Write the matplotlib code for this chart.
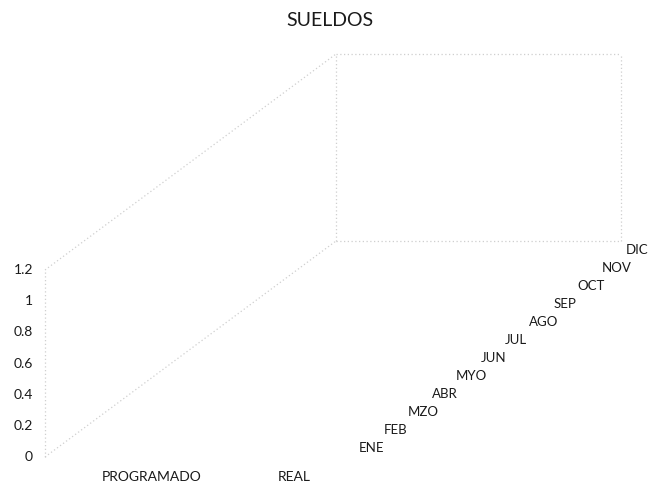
import numpy as np
import matplotlib
matplotlib.use("Agg")
from matplotlib import pyplot as plt
from matplotlib.patches import Polygon

plt.rcParams['font.family'] = ['Lato', 'DejaVu Sans']

# data
title = "SUELDOS"
series = ["PROGRAMADO", "REAL"]
months = ["ENE", "FEB", "MZO", "ABR", "MYO", "JUN",
          "JUL", "AGO", "SEP", "OCT", "NOV", "DIC"]
programado = [0, 0, 0, 0, 0, 0, 0, 0, 0, 0, 0, 0]
real = [0, 0, 0, 0, 0, 0, 0, 0, 0, 0, 0, 0]
yticks = [0, 0.2, 0.4, 0.6, 0.8, 1, 1.2]
ymax = 1.2

# oblique 3d frame (pixel space)
ox, oy = 45, 457
width = 285
dx, dy = 291, -216
height = 187


def proj(c, d, v):
    x = ox + c * width / len(series) + d * dx / len(months)
    y = oy - v * height / ymax + d * dy / len(months)
    return x, y


fig = plt.figure(figsize=(6.48, 4.87), dpi=100)
ax = fig.add_axes([0, 0, 1, 1])
ax.set_xlim(0, 648)
ax.set_ylim(487, 0)
ax.axis('off')

line_kw = dict(color='#cfcfcf', lw=0.9, ls=(0, (1, 2)))
nc, nd = len(series), len(months)
edges = [
    ((0, 0, 0), (0, 0, ymax)),        # value axis
    ((0, 0, 0), (0, nd, 0)),          # floor left edge
    ((0, 0, ymax), (0, nd, ymax)),    # left wall top
    ((0, nd, 0), (0, nd, ymax)),      # back wall left
    ((0, nd, ymax), (nc, nd, ymax)),  # back wall top
    ((nc, nd, 0), (nc, nd, ymax)),    # back wall right
    ((0, nd, 0), (nc, nd, 0)),        # back wall bottom
]
for a, b in edges:
    x0, y0 = proj(*a)
    x1, y1 = proj(*b)
    ax.plot([x0, x1], [y0, y1], **line_kw)

# columns (all zero)
for ci, vals in enumerate([programado, real]):
    for di, v in enumerate(vals):
        pts = [proj(ci + 0.2, di + 0.2, v), proj(ci + 0.8, di + 0.2, v),
               proj(ci + 0.8, di + 0.8, v), proj(ci + 0.2, di + 0.8, v)]
        ax.add_patch(Polygon(pts, closed=True, facecolor='#4f81bd',
                             edgecolor='none', alpha=1 if v > 0 else 0))

# value labels
for t in yticks:
    x, y = proj(0, 0, t)
    ax.text(x - 12, y, f"{t:g}", ha='right', va='center', fontsize=10, color='#1a1a1a')

# category labels
for ci, s in enumerate(series):
    x, y = proj(ci + 0.5, 0, 0)
    ax.text(x + 35, y + 20, s, ha='center', va='center', fontsize=10, color='#1a1a1a')

# depth labels
for di, m in enumerate(months):
    x, y = proj(nc, di + 0.5, 0)
    ax.text(x + 17, y, m, ha='left', va='center', fontsize=9.5, color='#1a1a1a')

ax.text(330, 20, title, ha='center', va='center', fontsize=14, color='#1a1a1a')

fig.savefig("out.png", dpi=100)
